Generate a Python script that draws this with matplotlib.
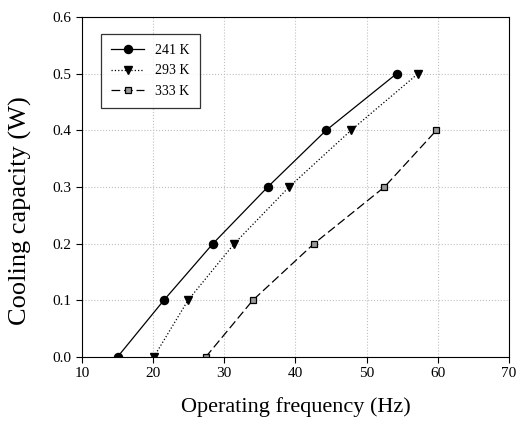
import matplotlib
matplotlib.use("Agg")
import matplotlib.pyplot as plt

plt.rcParams["font.family"] = ["Liberation Serif", "DejaVu Serif"]

# data
cap = [0.0, 0.1, 0.2, 0.3, 0.4, 0.5]
f_241 = [15.0, 21.5, 28.4, 36.1, 44.3, 54.2]
f_293 = [20.1, 24.9, 31.4, 39.1, 47.8, 57.2]
cap_333 = [0.0, 0.1, 0.2, 0.3, 0.4]
f_333 = [27.4, 34.0, 42.6, 52.5, 59.8]
labels = ["241 K", "293 K", "333 K"]

fig = plt.figure(figsize=(5.22, 4.28), dpi=100)
ax = fig.add_axes([0.157, 0.166, 0.818, 0.794])

ax.plot(f_241, cap, color="black", lw=0.9, ls="-", marker="o", ms=5.8, label=labels[0])
ax.plot(f_293, cap, color="black", lw=0.9, ls=":", marker="v", ms=5.5, label=labels[1])
ax.plot(f_333, cap_333, color="black", lw=0.9, ls=(0, (7, 3)), marker="s", ms=4.5,
        markerfacecolor="#999999", markeredgecolor="black", markeredgewidth=0.9, label=labels[2])

ax.set_xlim(10, 70)
ax.set_ylim(0, 0.6)
ax.set_xticks(range(10, 71, 10))
ax.set_yticks([0.0, 0.1, 0.2, 0.3, 0.4, 0.5, 0.6])
ax.set_yticklabels(["0.0", "0.1", "0.2", "0.3", "0.4", "0.5", "0.6"])
ax.tick_params(direction="out", length=4, width=0.8, labelsize=11)
ax.grid(True, color="#c0c0c0", ls=":", lw=0.8)

ax.set_xlabel("Operating frequency (Hz)", fontsize=16, labelpad=12)
ax.set_ylabel("Cooling capacity (W)", fontsize=19)
ax.yaxis.set_label_coords(-0.117, 0.43)

leg = ax.legend(loc="upper left", bbox_to_anchor=(0.045, 0.95), borderaxespad=0,
                fontsize=10, frameon=True, fancybox=False, edgecolor="black",
                handlelength=2.4, borderpad=0.7, labelspacing=0.55)
leg.get_frame().set_linewidth(0.9)

fig.savefig("out.png", dpi=100)
